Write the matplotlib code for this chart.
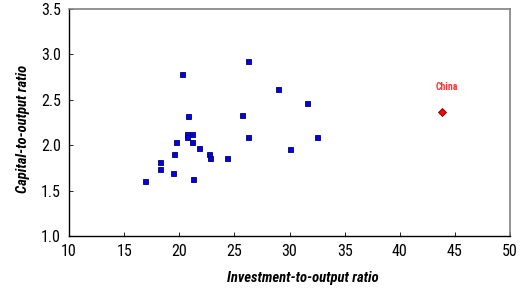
import numpy as np
import matplotlib
matplotlib.use("Agg")
import matplotlib.pyplot as plt
from matplotlib import font_manager

# pick a condensed face if one is installed
names = {f.name for f in font_manager.fontManager.ttflist}
narrow = [n for n in ['Liberation Sans Narrow', 'DejaVu Sans Condensed', 'Roboto Condensed',
                      'Open Sans Condensed'] if n in names]
plt.rcParams['font.family'] = narrow + ['DejaVu Sans']
plt.rcParams['font.stretch'] = 'condensed'

# investment-to-output ratio vs capital-to-output ratio
inv_ratio = [26.26, 20.28, 28.96, 31.61, 20.77, 25.72, 20.67, 21.16, 20.72, 26.26,
             32.49, 19.68, 21.13, 21.76, 30.07, 19.55, 22.73, 22.82, 24.36, 18.28,
             18.28, 19.43, 16.87, 21.28]
cap_ratio = [2.93, 2.78, 2.62, 2.47, 2.32, 2.33, 2.12, 2.12, 2.09, 2.09,
             2.09, 2.03, 2.04, 1.97, 1.96, 1.90, 1.90, 1.86, 1.86, 1.81,
             1.74, 1.69, 1.61, 1.63]
china_inv = 43.80
china_cap = 2.37
x_ticks = [10, 15, 20, 25, 30, 35, 40, 45, 50]
y_ticks = [1.0, 1.5, 2.0, 2.5, 3.0, 3.5]

fig = plt.figure(figsize=(5.24, 2.89), dpi=100)
ax = fig.add_axes([0.1317, 0.1834, 0.8416, 0.7855])

ax.plot(inv_ratio, cap_ratio, linestyle='none', marker='s', markersize=3.6,
        markerfacecolor='#0000ee', markeredgecolor='#000066', markeredgewidth=0.6)
ax.plot([china_inv], [china_cap], linestyle='none', marker='D', markersize=4.2,
        markerfacecolor='#ff0000', markeredgecolor='#660000', markeredgewidth=0.6)
ax.annotate('China', (china_inv, china_cap), xytext=(4, 18), textcoords='offset points',
            ha='center', va='center', color='#ff3030', fontsize=7, fontweight='bold')

ax.set_xlim(10, 50)
ax.set_ylim(1.0, 3.5)
ax.set_xticks(x_ticks)
ax.set_yticks(y_ticks)
ax.set_yticklabels([f'{v:.1f}' for v in y_ticks])
ax.tick_params(direction='in', length=3, width=0.6, labelsize=11.5, pad=6)

for side in ['left', 'bottom']:
    ax.spines[side].set_color('black')
    ax.spines[side].set_linewidth(1.0)
for side in ['top', 'right']:
    ax.spines[side].set_color('#808080')
    ax.spines[side].set_linewidth(1.2)

ax.set_xlabel('Investment-to-output ratio', fontsize=10.5, fontweight='bold',
              fontstyle='italic')
ax.set_ylabel('Capital-to-output ratio', fontsize=10.5, fontweight='bold',
              fontstyle='italic')
ax.xaxis.set_label_coords(0.531, -0.152)
ax.yaxis.set_label_coords(-0.089, 0.471)

fig.savefig('out.png', dpi=100)
